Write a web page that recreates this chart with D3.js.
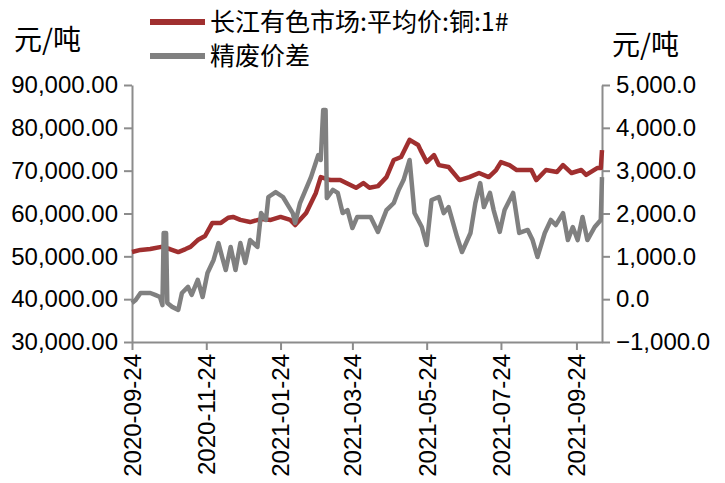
<!DOCTYPE html>
<html>
<head>
<meta charset="utf-8">
<script src="https://cdn.jsdelivr.net/npm/d3@7"></script>
<style>
  body { margin: 0; background: #fff; }
  text { font-family: "Liberation Sans", Arial, "Noto Sans CJK SC", sans-serif; fill: #000; }
  .cjk { font-family: "Noto Sans CJK SC", sans-serif; }
</style>
</head>
<body>
<svg></svg>
<script>
// data
const copperDates = ["2020-09-24","2020-10-01","2020-10-09","2020-10-18","2020-10-25","2020-11-01","2020-11-07","2020-11-11","2020-11-17","2020-11-23","2020-11-29","2020-12-06","2020-12-12","2020-12-16","2020-12-22","2020-12-30","2021-01-08","2021-01-16","2021-01-24","2021-02-01","2021-02-05","2021-02-14","2021-02-22","2021-02-26","2021-03-06","2021-03-14","2021-03-19","2021-03-27","2021-04-02","2021-04-07","2021-04-14","2021-04-21","2021-04-27","2021-05-03","2021-05-10","2021-05-17","2021-05-19","2021-05-24","2021-05-30","2021-06-03","2021-06-11","2021-06-20","2021-06-28","2021-07-06","2021-07-14","2021-07-20","2021-07-24","2021-07-31","2021-08-06","2021-08-18","2021-08-22","2021-08-30","2021-09-08","2021-09-13","2021-09-20","2021-09-28","2021-10-02","2021-10-11","2021-10-14","2021-10-15"];
const copperPrice = [51000,51500,51700,52200,51700,51000,51700,52200,53800,54750,57800,57800,59000,59200,58500,58000,58700,58500,59200,58500,57300,60100,64800,68500,67800,67800,67100,66000,67100,66000,66400,68500,72500,73200,77200,76000,74800,72000,73650,71300,70850,67800,68500,69450,68500,70150,72000,71300,70150,70150,67800,70150,69700,71300,69450,70150,69000,70600,70600,74800];

const spreadDates = ["2020-09-24","2020-09-27","2020-10-01","2020-10-09","2020-10-13","2020-10-17","2020-10-19","2020-10-20","2020-10-22","2020-10-23","2020-10-27","2020-11-01","2020-11-04","2020-11-09","2020-11-12","2020-11-17","2020-11-21","2020-11-25","2020-11-30","2020-12-04","2020-12-07","2020-12-10","2020-12-14","2020-12-18","2020-12-22","2020-12-26","2020-12-30","2021-01-05","2021-01-08","2021-01-12","2021-01-14","2021-01-20","2021-01-26","2021-01-31","2021-02-03","2021-02-05","2021-02-09","2021-02-18","2021-02-24","2021-02-26","2021-02-28","2021-03-02","2021-03-03","2021-03-08","2021-03-12","2021-03-16","2021-03-20","2021-03-24","2021-03-28","2021-04-01","2021-04-08","2021-04-14","2021-04-21","2021-04-27","2021-05-01","2021-05-05","2021-05-10","2021-05-14","2021-05-20","2021-05-24","2021-05-28","2021-06-03","2021-06-07","2021-06-11","2021-06-18","2021-06-22","2021-06-29","2021-07-03","2021-07-07","2021-07-10","2021-07-15","2021-07-18","2021-07-23","2021-07-27","2021-08-03","2021-08-08","2021-08-15","2021-08-19","2021-08-23","2021-08-29","2021-09-03","2021-09-07","2021-09-13","2021-09-17","2021-09-21","2021-09-25","2021-09-29","2021-10-03","2021-10-09","2021-10-14","2021-10-15"];
const spreadValue = [-90,-20,144,144,100,50,-140,1545,1545,-90,-180,-250,144,285,100,450,50,610,915,1310,985,680,1220,680,1310,845,1380,1220,2010,1850,2385,2500,2385,2150,2010,1780,2245,2850,3365,3250,4415,4415,2360,2550,2480,2010,2080,1660,1920,1920,1920,1570,2080,2245,2550,2780,3250,2010,1685,1265,2315,2385,2010,2150,1450,1100,1545,2245,2710,2150,2480,2080,1570,2080,2480,1545,1615,1380,985,1545,1850,1730,2010,1380,1685,1380,1920,1380,1685,1850,2850];

const xTickLabels = ["2020-09-24","2020-11-24","2021-01-24","2021-03-24","2021-05-24","2021-07-24","2021-09-24"];
const leftTicks = [30000,40000,50000,60000,70000,80000,90000];
const rightTicks = [-1000,0,1000,2000,3000,4000,5000];
const seriesNames = ["长江有色市场:平均价:铜:1#", "精废价差"];
const seriesColors = ["#a02f2f", "#808080"];

let width = 725;
let height = 483;
const svg = d3.select("svg").attr("width", width).attr("height", height);

const margin = {left: 132, right: 123, top: 85, bottom: 141};
const parse = d3.timeParse("%Y-%m-%d");

let x = d3.scaleTime()
    .domain([parse("2020-09-24"), parse("2021-10-15")])
    .range([margin.left, width - margin.right]);
let yLeft = d3.scaleLinear().domain([30000, 90000]).range([height - margin.bottom, margin.top]);
let yRight = d3.scaleLinear().domain([-1000, 5000]).range([height - margin.bottom, margin.top]);

const axisColor = "#8c8c8c";
function styleAxis(g) {
    g.selectAll(".domain").attr("stroke", axisColor).attr("stroke-width", 2);
    g.selectAll(".tick line").attr("stroke", axisColor).attr("stroke-width", 2);
    g.selectAll(".tick text").style("font-size", "24px").attr("fill", "#000");
}

// left axis
svg.append("g")
    .attr("transform", "translate(" + margin.left + ",0)")
    .call(d3.axisLeft(yLeft).tickValues(leftTicks).tickFormat(d3.format(",.2f")).tickSize(8).tickSizeOuter(0).tickPadding(6))
    .call(styleAxis);

// right axis
svg.append("g")
    .attr("transform", "translate(" + (width - margin.right) + ",0)")
    .call(d3.axisRight(yRight).tickValues(rightTicks).tickFormat(d3.format(",.1f")).tickSize(8).tickSizeOuter(0).tickPadding(6))
    .call(styleAxis);

// bottom axis
let xAxis = svg.append("g")
    .attr("transform", "translate(0," + (height - margin.bottom) + ")")
    .call(d3.axisBottom(x).tickValues(xTickLabels.map(parse)).tickFormat(d3.timeFormat("%Y-%m-%d")).tickSize(8).tickSizeOuter(0))
    .call(styleAxis);
xAxis.selectAll(".tick text")
    .attr("transform", "rotate(-90)")
    .attr("text-anchor", "end")
    .attr("x", -12)
    .attr("y", 0)
    .attr("dy", "0.35em");

// lines
let copper = copperDates.map((d, i) => ({date: parse(d), value: copperPrice[i]}));
let spread = spreadDates.map((d, i) => ({date: parse(d), value: spreadValue[i]}));

svg.append("path")
    .datum(copper)
    .attr("fill", "none")
    .attr("stroke", seriesColors[0])
    .attr("stroke-width", 4.5)
    .attr("stroke-linejoin", "round")
    .attr("d", d3.line().x(d => x(d.date)).y(d => yLeft(d.value)));

svg.append("path")
    .datum(spread)
    .attr("fill", "none")
    .attr("stroke", seriesColors[1])
    .attr("stroke-width", 4.5)
    .attr("stroke-linejoin", "round")
    .attr("d", d3.line().x(d => x(d.date)).y(d => yRight(d.value)));

// unit labels
svg.append("text").attr("class", "cjk").attr("x", 14).attr("y", 42)
    .attr("dominant-baseline", "middle").style("font-size", "28px").text("元/吨");
svg.append("text").attr("class", "cjk").attr("x", 612).attr("y", 47)
    .attr("dominant-baseline", "middle").style("font-size", "28px").text("元/吨");

// legend
let legend = svg.append("g");
seriesNames.forEach(function (name, i) {
    let ly = 22 + i * 34;
    legend.append("line")
        .attr("x1", 150).attr("x2", 205).attr("y1", ly).attr("y2", ly)
        .attr("stroke", seriesColors[i]).attr("stroke-width", 6);
    legend.append("text").attr("class", "cjk")
        .attr("x", 210).attr("y", ly + 2)
        .attr("dominant-baseline", "middle")
        .style("font-size", "25px")
        .text(name);
});
</script>
</body>
</html>
